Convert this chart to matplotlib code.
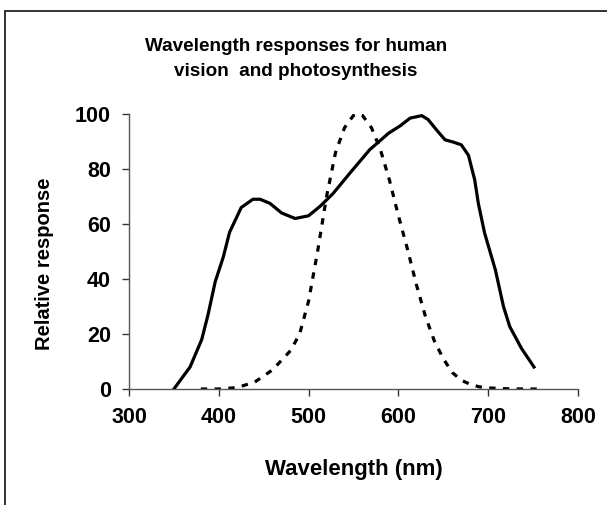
import matplotlib.pyplot as plt
from matplotlib.patches import Rectangle

plt.rcParams["font.family"] = ["Liberation Sans", "DejaVu Sans"]
plt.rcParams["font.weight"] = "bold"

# photosynthesis response (solid)
photo_nm = [350, 368, 381, 388, 396, 405, 412, 425, 438, 446, 457, 470, 485, 500,
            513, 527, 546, 568, 589, 602, 613, 626, 633, 643, 652, 661, 670, 678,
            685, 689, 696, 708, 717, 724, 737, 751]
photo_resp = [0, 8, 18, 27, 39, 48, 57, 66, 69, 69, 67.5, 64, 62, 63,
              66.5, 71, 78.5, 87, 93, 95.7, 98.5, 99.4, 98, 94, 90.6, 89.8, 88.8, 85,
              76, 67.5, 56.7, 43.3, 30, 22.7, 14.8, 8]

# human vision response (dashed)
vision_nm = [380, 400, 420, 440, 460, 480, 490, 500, 510, 520, 530, 540, 550, 555,
             560, 570, 580, 590, 600, 610, 620, 630, 640, 650, 660, 670, 680, 690,
             700, 720, 740, 760]
vision_resp = [0, 0, 0.5, 2.5, 7, 14, 20, 32, 50, 70, 86, 95, 99.5, 100,
               99.5, 95, 87, 76, 63, 51, 38, 26.5, 17.5, 11, 6, 3.2, 1.7, 0.8,
               0.4, 0.1, 0, 0]

x_ticks = [300, 400, 500, 600, 700, 800]
y_ticks = [0, 20, 40, 60, 80, 100]

W, H = 607, 505
fig = plt.figure(figsize=(W / 100, H / 100), dpi=100)
ax = fig.add_axes([129 / W, 1 - 389 / H, 449 / W, 275 / H])

ax.plot(photo_nm, photo_resp, color="black", linewidth=2.3, solid_joinstyle="round")
ax.plot(vision_nm, vision_resp, color="black", linewidth=2.3, linestyle=(0, (2, 2.3)))

ax.set_xlim(300, 800)
ax.set_ylim(0, 100)
ax.set_xticks(x_ticks)
ax.set_yticks(y_ticks)
for side in ("top", "right"):
    ax.spines[side].set_visible(False)
for side in ("left", "bottom"):
    ax.spines[side].set_color("#555555")
    ax.spines[side].set_linewidth(1.0)
ax.tick_params(axis="both", direction="out", length=5, width=1.0, color="#333333",
               labelsize=15.5)
ax.tick_params(axis="x", pad=8)
ax.tick_params(axis="y", pad=8)
for lbl in ax.get_xticklabels() + ax.get_yticklabels():
    lbl.set_fontweight("bold")
ax.patch.set_alpha(0)

ax.set_xlabel("Wavelength (nm)", fontsize=16, fontweight="bold", labelpad=22)
fig.text(45 / W, 1 - 264 / H, "Relative response", rotation=90, fontsize=14.5,
         fontweight="bold", ha="center", va="center")
fig.text(296 / W, 1 - 59 / H, "Wavelength responses for human\nvision  and photosynthesis",
         fontsize=13.6, fontweight="bold", ha="center", va="center", linespacing=1.6)

# chart border (runs off the right and bottom edges)
fig.patches.append(Rectangle((5 / W, -0.05), 1.2, 1.05 - 11 / H, transform=fig.transFigure,
                             fill=False, edgecolor="#222222", linewidth=1.3))

fig.savefig("out.png", dpi=100)
